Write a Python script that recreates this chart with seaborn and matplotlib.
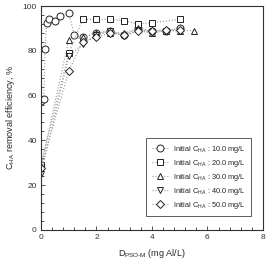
import numpy as np
import pandas as pd
import matplotlib
matplotlib.use("Agg")
import matplotlib.pyplot as plt
from matplotlib.ticker import MultipleLocator
import seaborn as sns

sns.set_style('ticks')
plt.rcParams['font.family'] = ['Liberation Sans', 'DejaVu Sans']
plt.rcParams['mathtext.fontset'] = 'custom'
plt.rcParams['mathtext.rm'] = 'Liberation Sans'
plt.rcParams['mathtext.it'] = 'Liberation Sans'

# dose of PSO-M (mg Al/L) and removal efficiency (%) per initial C_HA
dose_10 = [0, 0.1, 0.15, 0.2, 0.3, 0.5, 0.7, 1.0, 1.2, 1.5, 2.0, 2.5, 3.0, 3.5, 4.0, 4.5, 5.0]
eff_10 = [57.5, 58.5, 81, 92.5, 94, 93.5, 95.5, 97, 87, 86, 88, 89, 87, 90, 89, 89, 90]

dose_20 = [0, 1.0, 1.5, 2.0, 2.5, 3.0, 3.5, 4.0, 5.0]
eff_20 = [29, 79, 94, 94, 94, 93.5, 92, 92.5, 94]

dose_30 = [0, 1.0, 1.5, 2.0, 2.5, 3.0, 3.5, 4.0, 4.5, 5.0, 5.5]
eff_30 = [28.5, 85, 86, 88, 88, 88, 90, 88, 89, 89, 89]

dose_40 = [0, 1.0, 1.5, 2.0, 2.5, 3.0, 3.5, 4.0, 4.5, 5.0]
eff_40 = [25, 77.5, 83, 87, 89, 86.5, 89, 88, 89, 89]

dose_50 = [0, 1.0, 1.5, 2.0, 2.5, 3.0, 3.5, 4.0, 4.5, 5.0]
eff_50 = [27.5, 71, 84, 86, 88, 87, 89, 89, 89.5, 89.5]

labels = ['Initial C$_{\\mathrm{HA}}$ : 10.0 mg/L',
          'Initial C$_{\\mathrm{HA}}$ : 20.0 mg/L',
          'Initial C$_{\\mathrm{HA}}$ : 30.0 mg/L',
          'Initial C$_{\\mathrm{HA}}$ : 40.0 mg/L',
          'Initial C$_{\\mathrm{HA}}$ : 50.0 mg/L']
markers = ['o', 's', '^', 'v', 'D']

series = [(dose_10, eff_10), (dose_20, eff_20), (dose_30, eff_30),
          (dose_40, eff_40), (dose_50, eff_50)]

fig = plt.figure(figsize=(2.68, 2.61), dpi=100)
ax = fig.add_axes([0.153, 0.119, 0.828, 0.858])

for (x, y), lab, m in zip(series, labels, markers):
    sns.lineplot(x=x, y=y, ax=ax, color='#999999', linestyle=':', linewidth=0.8,
                 marker=m, markersize=5 if m != 'D' else 4.3, markerfacecolor='white',
                 markeredgecolor='#222222', markeredgewidth=0.7, label=lab)

ax.set_xlim(0, 8)
ax.set_ylim(0, 100)
ax.xaxis.set_major_locator(MultipleLocator(2))
ax.xaxis.set_minor_locator(MultipleLocator(0.4))
ax.yaxis.set_major_locator(MultipleLocator(20))
ax.yaxis.set_minor_locator(MultipleLocator(4))
ax.tick_params(which='both', direction='in', labelsize=6, colors='#333333',
               top=False, right=False, pad=3)
ax.tick_params(which='major', length=3, width=0.6)
ax.tick_params(which='minor', length=2, width=0.6)
for s in ax.spines.values():
    s.set_linewidth(0.8)
    s.set_color('#333333')

ax.set_xlabel('D$_{\\mathrm{PSO\\text{-}M}}$ (mg Al/L)', fontsize=6.5, labelpad=4)
ax.set_ylabel('C$_{\\mathrm{HA}}$ removal efficiency, %', fontsize=6.5, labelpad=4)

leg = ax.legend(loc='lower right', bbox_to_anchor=(0.962, 0.045), fontsize=5.3,
                frameon=True, fancybox=False, edgecolor='#333333',
                handlelength=2.2, handletextpad=0.6, borderpad=0.75, labelspacing=0.4)
leg.get_frame().set_linewidth(0.7)

fig.savefig('out.png', dpi=100)
